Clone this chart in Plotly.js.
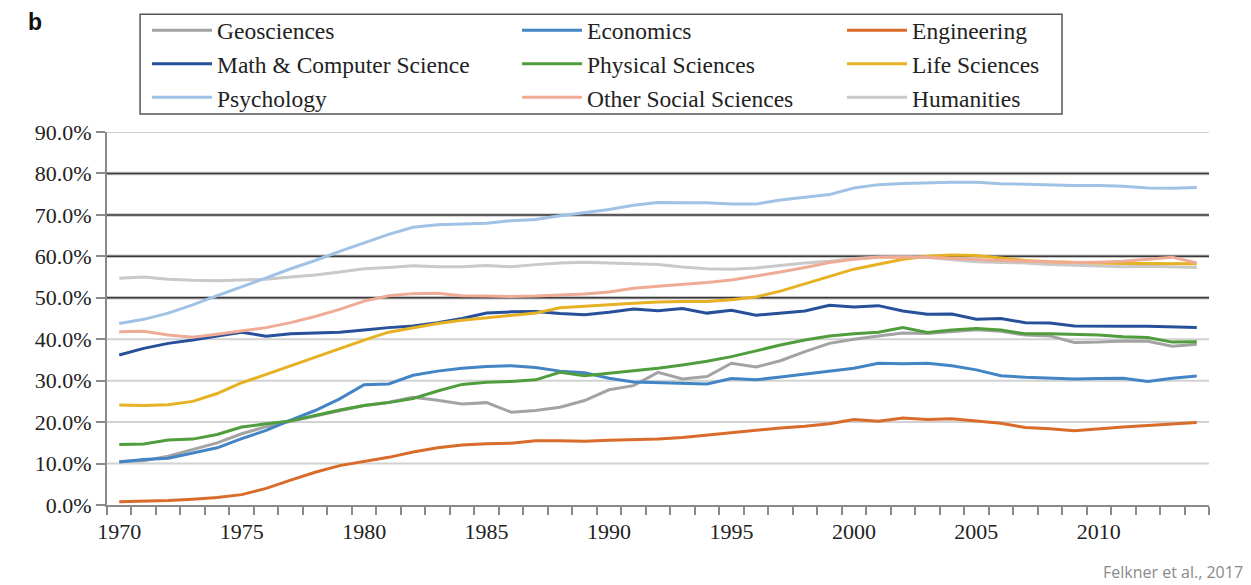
<!DOCTYPE html>
<html>
<head>
<meta charset="utf-8">
<script src="https://cdn.plot.ly/plotly-3.0.1.min.js"></script>
<style>
  html, body { margin: 0; padding: 0; background: #ffffff; }
  #chart { width: 1251px; height: 585px; }
</style>
</head>
<body>
<div id="chart"></div>
<script>
// ---- data (share of PhDs awarded to women, %) ----
const years = [1970,1971,1972,1973,1974,1975,1976,1977,1978,1979,
               1980,1981,1982,1983,1984,1985,1986,1987,1988,1989,
               1990,1991,1992,1993,1994,1995,1996,1997,1998,1999,
               2000,2001,2002,2003,2004,2005,2006,2007,2008,2009,
               2010,2011,2012,2013,2014];

const geosciences = [10.5,10.7,11.8,13.4,15.0,17.2,18.9,20.2,21.5,22.8,
                     24.0,24.8,26.0,25.3,24.4,24.7,22.4,22.8,23.6,25.2,
                     27.8,28.8,32.0,30.4,31.0,34.2,33.3,34.8,37.0,39.0,
                     40.0,40.8,41.5,41.4,41.9,42.3,41.9,41.0,40.8,39.2,
                     39.3,39.6,39.5,38.3,38.8];
const economics = [10.4,11.0,11.3,12.5,13.8,16.0,18.0,20.5,22.8,25.6,
                   29.0,29.2,31.3,32.3,33.0,33.4,33.6,33.2,32.3,31.9,
                   30.6,29.7,29.5,29.3,29.2,30.5,30.2,30.9,31.6,32.2,
                   33.0,34.2,34.1,34.2,33.6,32.6,31.2,30.8,30.6,30.4,
                   30.5,30.6,29.8,30.6,31.1];
const engineering = [0.8,0.9,1.1,1.4,1.8,2.5,4.0,6.0,7.9,9.5,
                     10.5,11.5,12.8,13.8,14.5,14.8,14.9,15.5,15.5,15.4,
                     15.6,15.7,15.9,16.3,16.9,17.4,18.0,18.6,19.0,19.6,
                     20.6,20.2,21.0,20.6,20.8,20.3,19.7,18.7,18.4,17.9,
                     18.4,18.8,19.2,19.5,19.9];
const mathCS = [36.2,37.8,39.0,39.8,40.8,41.7,40.7,41.3,41.5,41.7,
                42.2,42.8,43.2,44.0,45.0,46.3,46.6,46.7,46.2,45.9,
                46.5,47.3,46.9,47.4,46.3,47.0,45.8,46.3,46.8,48.2,
                47.8,48.1,46.8,46.0,46.1,44.8,45.0,44.0,43.9,43.2,
                43.1,43.1,43.1,43.0,42.8];
const physical = [14.6,14.7,15.7,15.9,17.0,18.8,19.6,20.3,21.6,22.9,
                  24.0,24.7,25.7,27.5,29.1,29.6,29.8,30.2,32.0,31.2,
                  31.8,32.4,33.0,33.8,34.7,35.8,37.2,38.6,39.8,40.8,
                  41.3,41.7,42.8,41.6,42.2,42.6,42.2,41.3,41.3,41.2,
                  41.0,40.6,40.4,39.3,39.4];
const life = [24.1,24.0,24.2,25.0,26.9,29.5,31.5,33.6,35.6,37.8,
              39.8,41.7,42.8,43.8,44.6,45.2,45.8,46.3,47.6,47.9,
              48.3,48.7,49.0,49.1,49.1,49.5,50.2,51.6,53.4,55.2,
              56.9,58.1,59.3,60.0,60.3,60.2,59.6,59.0,58.7,58.5,
              58.4,58.3,58.3,58.2,58.2];
const psychology = [43.8,44.8,46.3,48.3,50.5,52.6,54.8,57.0,59.0,61.2,
                    63.3,65.3,67.0,67.6,67.8,68.0,68.6,68.9,69.8,70.6,
                    71.3,72.3,73.0,72.9,72.9,72.6,72.6,73.6,74.2,74.9,
                    76.5,77.3,77.6,77.8,77.9,77.9,77.5,77.4,77.2,77.1,
                    77.1,76.9,76.5,76.4,76.6];
const otherSocial = [41.8,41.9,41.0,40.5,41.2,42.0,42.8,44.0,45.5,47.2,
                     49.2,50.5,51.0,51.1,50.5,50.4,50.3,50.4,50.6,50.9,
                     51.4,52.3,52.8,53.2,53.7,54.3,55.2,56.2,57.3,58.5,
                     59.3,59.8,59.8,59.8,59.5,59.2,59.0,58.8,58.6,58.5,
                     58.6,58.8,59.3,59.8,58.4];
const humanities = [54.7,55.0,54.5,54.2,54.1,54.3,54.5,55.0,55.5,56.2,
                    57.0,57.3,57.7,57.5,57.5,57.8,57.5,58.0,58.4,58.6,
                    58.4,58.3,58.0,57.4,57.0,56.9,57.2,57.8,58.4,58.8,
                    59.5,59.8,59.9,59.7,59.2,58.7,58.5,58.4,58.0,57.8,
                    57.7,57.5,57.6,57.5,57.3];

const xTickVals = [1970,1975,1980,1985,1990,1995,2000,2005,2010];
const lightGridVals = [10,20,30,40,90];
const darkGridVals = [50,60,70,80];

// ---- traces (drawing order) ----
const seriesDefs = [
  {name:'Humanities',             y:humanities,  color:'#c9c9c9', legend:'legend3', rank:3},
  {name:'Geosciences',            y:geosciences, color:'#a3a3a3', legend:'legend',  rank:1},
  {name:'Economics',              y:economics,   color:'#4384c5', legend:'legend2', rank:1},
  {name:'Engineering',            y:engineering, color:'#d96b2b', legend:'legend3', rank:1},
  {name:'Math & Computer Science',y:mathCS,      color:'#27509b', legend:'legend',  rank:2},
  {name:'Physical Sciences',      y:physical,    color:'#4f9d3c', legend:'legend2', rank:2},
  {name:'Psychology',             y:psychology,  color:'#9fc2e5', legend:'legend',  rank:3},
  {name:'Life Sciences',          y:life,        color:'#e6b122', legend:'legend3', rank:2},
  {name:'Other Social Sciences',  y:otherSocial, color:'#efab95', legend:'legend2', rank:3}
];

const traces = seriesDefs.map(s => ({
  type:'scatter', mode:'lines', name:s.name, x:years, y:s.y,
  line:{color:s.color, width:3}, legend:s.legend, legendrank:s.rank,
  hoverinfo:'x+y+name'
}));

const serif = 'Liberation Serif';
const legendCommon = {
  orientation:'v', xanchor:'left', yanchor:'top', xref:'paper', yref:'container',
  bgcolor:'rgba(0,0,0,0)', borderwidth:0, itemwidth:60,
  font:{family:serif, size:23.5, color:'#222222'}, itemclick:false, itemdoubleclick:false
};

// gridlines drawn as shapes (light ones, and dark ones with a light halo)
const shapes = [];
lightGridVals.forEach(v => shapes.push({
  type:'line', xref:'x domain', x0:0, x1:1, yref:'y', y0:v, y1:v,
  line:{color:'#d2d2d2', width:2}, layer:'below'
}));
darkGridVals.forEach(v => {
  shapes.push({type:'line', xref:'x domain', x0:0, x1:1, yref:'y', y0:v, y1:v,
               line:{color:'#c4c4c4', width:3.5}, layer:'below'});
  shapes.push({type:'line', xref:'x domain', x0:0, x1:1, yref:'y', y0:v, y1:v,
               line:{color:'#3a3a3a', width:1.5}, layer:'below'});
});
// legend frame
shapes.push({type:'rect', xref:'paper', yref:'paper', x0:0.0300, x1:0.8666, y0:1.0483, y1:1.316,
             line:{color:'#555555', width:1.5}, fillcolor:'rgba(0,0,0,0)', layer:'above'});

const layout = {
  width:1251, height:585,
  margin:{l:107, r:42, t:132, b:80},
  paper_bgcolor:'#ffffff', plot_bgcolor:'#ffffff',
  font:{family:serif, size:22, color:'#222222'},
  showlegend:true,
  legend: Object.assign({}, legendCommon, {x:0.0363, y:0.9855}),
  legend2: Object.assign({}, legendCommon, {x:0.3721, y:0.9855}),
  legend3: Object.assign({}, legendCommon, {x:0.6670, y:0.9855}),
  xaxis:{
    range:[1969.5, 2014.5], tickmode:'array', tickvals:xTickVals,
    ticks:'outside', ticklen:6, tickcolor:'rgba(0,0,0,0)',
    showgrid:false, zeroline:false,
    showline:true, linecolor:'#8a8a8a', linewidth:2,
    tickfont:{family:serif, size:22, color:'#222222'},
    minor:{ticks:'outside', tick0:1969.5, dtick:1, ticklen:8, tickwidth:2, tickcolor:'#8a8a8a', showgrid:false},
    fixedrange:true
  },
  yaxis:{
    range:[0, 90], tickmode:'linear', tick0:0, dtick:10,
    tickformat:'.1f', ticksuffix:'%',
    ticks:'outside', ticklen:9, tickwidth:2, tickcolor:'#8a8a8a',
    showgrid:false, zeroline:false,
    showline:true, linecolor:'#8a8a8a', linewidth:2,
    tickfont:{family:serif, size:22, color:'#222222'},
    fixedrange:true
  },
  shapes:shapes,
  annotations:[
    {text:'<b>b</b>', xref:'paper', yref:'paper', x:-0.0735, y:1.296, xanchor:'left', yanchor:'middle',
     showarrow:false, font:{family:'Liberation Sans', size:23, color:'#111111'}},
    {text:'Felkner et al., 2017', xref:'paper', yref:'paper', x:1.0327, y:-0.1796, xanchor:'right', yanchor:'middle',
     showarrow:false, font:{family:'Open Sans', size:16, color:'#8a8a8a'}}
  ]
};

Plotly.newPlot('chart', traces, layout, {displayModeBar:false});
</script>
</body>
</html>
